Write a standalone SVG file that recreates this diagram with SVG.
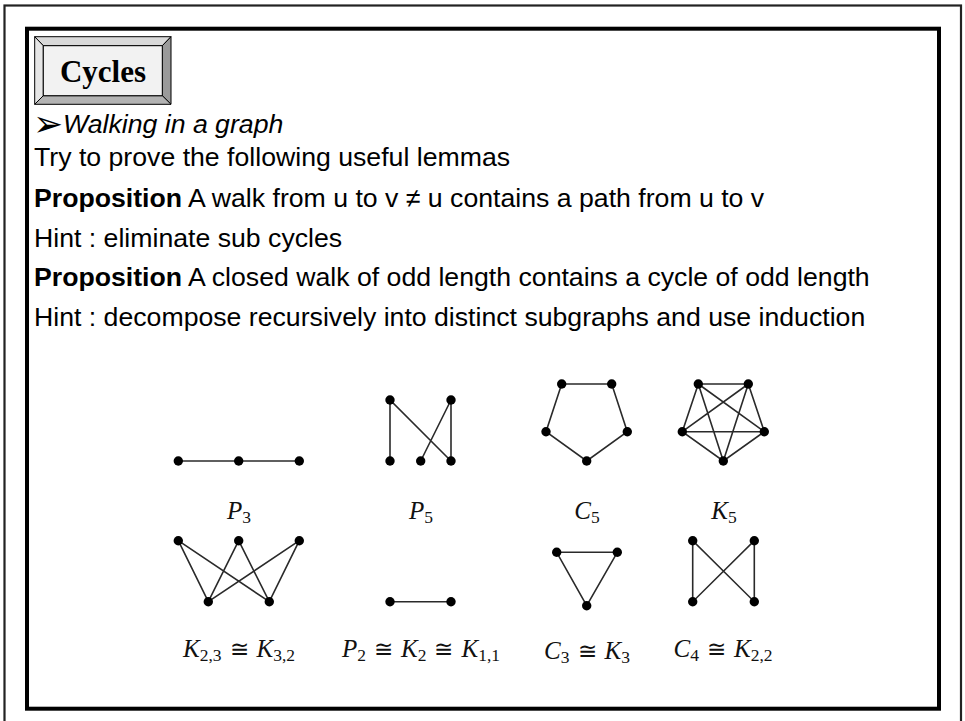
<svg xmlns="http://www.w3.org/2000/svg" width="965" height="721" viewBox="0 0 965 721">
<style>
.body{font-family:"Liberation Sans",Arial,sans-serif;font-size:26.67px;fill:#000}
.b{font-weight:bold}
.math{font-family:"Liberation Serif","DejaVu Serif",serif;font-size:25px;fill:#111}
.it{font-style:italic}
.sub{font-size:17.5px}
.rel{font-family:"DejaVu Serif",serif;font-size:23px}
.e{stroke:#2a2a2a;stroke-width:1.6;fill:none}
.n{fill:#000}
</style>
<rect width="965" height="721" fill="#fff"/>
<rect x="4.5" y="5.5" width="956.5" height="740" fill="none" stroke="#222" stroke-width="2.2"/>
<rect x="27" y="28.7" width="912" height="680" fill="none" stroke="#000" stroke-width="4"/>

<g id="title">
  <polygon points="34.7,36.7 171,36.7 162.3,45.7 43.3,45.7" fill="#d9d9d9" stroke="#000" stroke-width="1"/>
  <polygon points="34.7,36.7 43.3,45.7 43.3,95.7 34.7,104.3" fill="#e6e6e6" stroke="#000" stroke-width="1"/>
  <polygon points="171,36.7 171,104.3 162.3,95.7 162.3,45.7" fill="#9a9a9a" stroke="#000" stroke-width="1"/>
  <polygon points="34.7,104.3 171,104.3 162.3,95.7 43.3,95.7" fill="#b3b3b3" stroke="#000" stroke-width="1"/>
  <rect x="43.3" y="45.7" width="119" height="50" fill="#f2f2f2" stroke="#000" stroke-width="1"/>
  <text x="103" y="81.7" text-anchor="middle" font-family="Liberation Serif,serif" font-weight="bold" font-size="31">Cycles</text>
</g>

<g id="text">
  <text x="33" y="136" font-family="DejaVu Sans,sans-serif" font-size="36">➢</text>
  <text x="63" y="133" class="body" font-style="italic">Walking in a graph</text>
  <text x="34" y="166" class="body">Try to prove the following useful lemmas</text>
  <text x="34" y="207" class="body"><tspan class="b">Proposition</tspan> A walk from u to v ≠ u contains a path from u to v</text>
  <text x="34" y="246.5" class="body">Hint : eliminate sub cycles</text>
  <text x="34" y="286" class="body"><tspan class="b">Proposition</tspan> A closed walk of odd length contains a cycle of odd length</text>
  <text x="34" y="325.5" class="body">Hint : decompose recursively into distinct subgraphs and use induction</text>
</g>

<g id="connectors">
  <line class="e" x1="178.3" y1="461" x2="299.3" y2="461"/>
  <path class="e" d="M390,461 L390,400 L451,461 M420.7,461 L451,400 L451,461"/>
  <polygon class="e" points="561.7,384 611.7,384 627.3,431.7 586.7,461 546,431.7"/>
  <path class="e" d="M698.3,384 L748.3,384 L764.3,431.7 L723.3,461 L682.3,431.7 Z M698.3,384 L764.3,431.7 M698.3,384 L723.3,461 M748.3,384 L682.3,431.7 M748.3,384 L723.3,461 M682.3,431.7 L764.3,431.7"/>
  <path class="e" d="M178.3,540.7 L208.3,601.7 M178.3,540.7 L269.3,601.7 M238.7,540.7 L208.3,601.7 M238.7,540.7 L269.3,601.7 M299.3,540.7 L208.3,601.7 M299.3,540.7 L269.3,601.7"/>
  <line class="e" x1="390" y1="601.7" x2="451" y2="601.7"/>
  <polygon class="e" points="556.7,552.3 617.3,552.3 586.7,605.7"/>
  <path class="e" d="M692.7,540.7 L692.7,601.7 L754.3,540.7 L754.3,601.7 Z"/>
</g>

<g id="graph-P3">
  <circle class="n" cx="178.3" cy="461" r="4.7"/><circle class="n" cx="238.7" cy="461" r="4.7"/><circle class="n" cx="299.3" cy="461" r="4.7"/>
  <text class="math" x="239" y="519" text-anchor="middle"><tspan class="it">P</tspan><tspan class="sub" dy="4">3</tspan></text>
</g>
<g id="graph-P5">
  <circle class="n" cx="390" cy="400" r="4.7"/><circle class="n" cx="451" cy="400" r="4.7"/>
  <circle class="n" cx="390" cy="461" r="4.7"/><circle class="n" cx="420.7" cy="461" r="4.7"/><circle class="n" cx="451" cy="461" r="4.7"/>
  <text class="math" x="421" y="519" text-anchor="middle"><tspan class="it">P</tspan><tspan class="sub" dy="4">5</tspan></text>
</g>
<g id="graph-C5">
  <circle class="n" cx="561.7" cy="384" r="4.7"/><circle class="n" cx="611.7" cy="384" r="4.7"/>
  <circle class="n" cx="546" cy="431.7" r="4.7"/><circle class="n" cx="627.3" cy="431.7" r="4.7"/><circle class="n" cx="586.7" cy="461" r="4.7"/>
  <text class="math" x="587" y="519" text-anchor="middle"><tspan class="it">C</tspan><tspan class="sub" dy="4">5</tspan></text>
</g>
<g id="graph-K5">
  <circle class="n" cx="698.3" cy="384" r="4.7"/><circle class="n" cx="748.3" cy="384" r="4.7"/>
  <circle class="n" cx="682.3" cy="431.7" r="4.7"/><circle class="n" cx="764.3" cy="431.7" r="4.7"/><circle class="n" cx="723.3" cy="461" r="4.7"/>
  <text class="math" x="724" y="519" text-anchor="middle"><tspan class="it">K</tspan><tspan class="sub" dy="4">5</tspan></text>
</g>
<g id="graph-K23">
  <circle class="n" cx="178.3" cy="540.7" r="4.7"/><circle class="n" cx="238.7" cy="540.7" r="4.7"/><circle class="n" cx="299.3" cy="540.7" r="4.7"/>
  <circle class="n" cx="208.3" cy="601.7" r="4.7"/><circle class="n" cx="269.3" cy="601.7" r="4.7"/>
  <text class="math" x="239" y="657" text-anchor="middle"><tspan class="it">K</tspan><tspan class="sub" dy="4">2,3</tspan><tspan class="rel" dy="-4" dx="8">≅</tspan><tspan class="it" dx="8">K</tspan><tspan class="sub" dy="4">3,2</tspan></text>
</g>
<g id="graph-P2">
  <circle class="n" cx="390" cy="601.7" r="4.7"/><circle class="n" cx="451" cy="601.7" r="4.7"/>
  <text class="math" x="421" y="657" text-anchor="middle"><tspan class="it">P</tspan><tspan class="sub" dy="4">2</tspan><tspan class="rel" dy="-4" dx="8">≅</tspan><tspan class="it" dx="8">K</tspan><tspan class="sub" dy="4">2</tspan><tspan class="rel" dy="-4" dx="8">≅</tspan><tspan class="it" dx="8">K</tspan><tspan class="sub" dy="4">1,1</tspan></text>
</g>
<g id="graph-C3">
  <circle class="n" cx="556.7" cy="552.3" r="4.7"/><circle class="n" cx="617.3" cy="552.3" r="4.7"/><circle class="n" cx="586.7" cy="605.7" r="4.7"/>
  <text class="math" x="587" y="659" text-anchor="middle"><tspan class="it">C</tspan><tspan class="sub" dy="4">3</tspan><tspan class="rel" dy="-4" dx="8">≅</tspan><tspan class="it" dx="8">K</tspan><tspan class="sub" dy="4">3</tspan></text>
</g>
<g id="graph-C4">
  <circle class="n" cx="692.7" cy="540.7" r="4.7"/><circle class="n" cx="754.3" cy="540.7" r="4.7"/>
  <circle class="n" cx="692.7" cy="601.7" r="4.7"/><circle class="n" cx="754.3" cy="601.7" r="4.7"/>
  <text class="math" x="723" y="657" text-anchor="middle"><tspan class="it">C</tspan><tspan class="sub" dy="4">4</tspan><tspan class="rel" dy="-4" dx="8">≅</tspan><tspan class="it" dx="8">K</tspan><tspan class="sub" dy="4">2,2</tspan></text>
</g>
</svg>
